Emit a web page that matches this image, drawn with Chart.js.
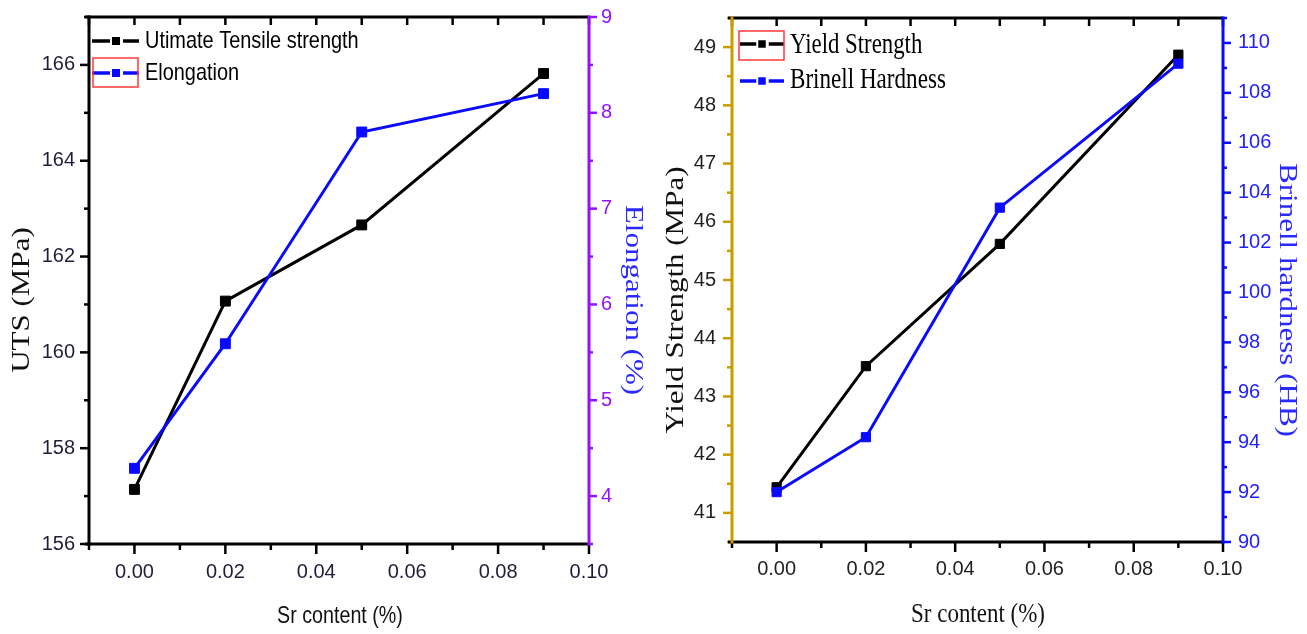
<!DOCTYPE html>
<html>
<head>
<meta charset="utf-8">
<title>Sr content vs mechanical properties</title>
<script src="https://cdn.jsdelivr.net/npm/chart.js@4.4.1/dist/chart.umd.min.js"></script>
<style>
  html, body { margin: 0; padding: 0; background: #fff; }
  #wrap  { position: relative; width: 1307px; height: 634px; overflow: hidden; }
  #left  { position: absolute; left: 0; top: 0; }
  #right { position: absolute; left: 650px; top: 0; }
</style>
</head>
<body>
<div id="wrap">
  <canvas id="left" width="650" height="634"></canvas>
  <canvas id="right" width="657" height="634"></canvas>
</div>
<script>
const srContent      = [0, 0.02, 0.05, 0.09];
const utsValues      = [157.14, 161.07, 162.66, 165.82];
const elongValues    = [4.29, 5.59, 7.8, 8.2];
const yieldValues    = [41.44, 43.52, 45.62, 48.87];
const hardnessValues = [92.0, 94.2, 103.4, 109.17];

const srTicks       = [0, 0.02, 0.04, 0.06, 0.08, 0.10];
const utsTicks      = [156, 158, 160, 162, 164, 166];
const elongTicks    = [4, 5, 6, 7, 8, 9];
const yieldTicks    = [41, 42, 43, 44, 45, 46, 47, 48, 49];
const hardnessTicks = [90, 92, 94, 96, 98, 100, 102, 104, 106, 108, 110];

const leftNames  = ["Utimate Tensile strength", "Elongation"];
const rightNames = ["Yield Strength", "Brinell Hardness"];

const TITLE_X     = "Sr content (%)";
const TITLE_UTS   = "UTS (MPa)";
const TITLE_ELONG = "Elongation (%)";
const TITLE_YIELD = "Yield Strength (MPa)";
const TITLE_HB    = "Brinell hardness (HB)";

const NARROW = "'Liberation Sans Narrow', 'Arial Narrow', 'Liberation Sans', sans-serif";
const SERIF  = "'Liberation Serif', 'Times New Roman', serif";
const BLUE   = "#0a0aff";
const PURPLE = "#9411ff";
const GOLD   = "#c99c00";

function minorValues(min, max, step, majors) {
  const out = [];
  for (let n = Math.ceil(min / step - 1e-9); n * step <= max + 1e-9; n++) {
    const v = n * step;
    if (!majors.some(m => Math.abs(m - v) < step / 10)) out.push(v);
  }
  return out;
}

function drawText(ctx, t) {
  ctx.save();
  ctx.translate(t.x, t.y);
  ctx.rotate(t.rotate || 0);
  ctx.scale(t.sx || 1, t.sy || 1);
  ctx.font = t.font;
  ctx.fillStyle = t.color || "#111";
  ctx.textAlign = t.align || "center";
  ctx.textBaseline = t.baseline || "middle";
  ctx.fillText(t.text, 0, 0);
  ctx.restore();
}

// frame, ticks (major + minor), axis titles and legend, Origin style
const framePlugin = {
  id: "frame",
  afterDraw(chart, args, o) {
    const { ctx, chartArea: a, scales } = chart;
    const seg = (x1, y1, x2, y2, color, w) => {
      ctx.strokeStyle = color;
      ctx.lineWidth = w;
      ctx.beginPath();
      ctx.moveTo(x1, y1);
      ctx.lineTo(x2, y2);
      ctx.stroke();
    };
    ctx.save();
    ctx.lineCap = "butt";

    const sx = scales.x, yl = scales.y, yr = scales.y2;
    const xMinor = minorValues(sx.min, sx.max, o.xMinor, srTicks);
    srTicks.forEach(v => {
      const p = sx.getPixelForValue(v);
      seg(p, a.bottom, p, a.bottom + 10, "#000", 2.5);
      seg(p, a.top, p, a.top + 8, "#000", 2.5);
    });
    xMinor.forEach(v => {
      const p = sx.getPixelForValue(v);
      seg(p, a.bottom, p, a.bottom + 6, "#000", 2.5);
      seg(p, a.top, p, a.top + 8, "#000", 2.5);
    });

    o.leftMajor.forEach(v => { const p = yl.getPixelForValue(v); seg(a.left, p, a.left - 9, p, o.leftColor, 2.5); });
    minorValues(yl.min, yl.max, o.leftMinor, o.leftMajor)
      .forEach(v => { const p = yl.getPixelForValue(v); seg(a.left, p, a.left - 5, p, o.leftColor, 2.5); });
    o.rightMajor.forEach(v => { const p = yr.getPixelForValue(v); seg(a.right, p, a.right + 8, p, o.rightColor, 2.5); });
    minorValues(yr.min, yr.max, o.rightMinor, o.rightMajor)
      .forEach(v => { const p = yr.getPixelForValue(v); seg(a.right, p, a.right + 4, p, o.rightColor, 2.5); });

    seg(a.left - 4, a.top, a.right, a.top, "#000", 3);
    seg(a.left - 4, a.bottom, a.right, a.bottom, "#000", 3);
    seg(a.left, a.top - 1.5, a.left, a.bottom + 1.5, o.leftColor, 3);
    seg(a.right, a.top - 1.5, a.right, a.bottom + 1.5, o.rightColor, 3);

    o.titles.forEach(t => drawText(ctx, t));

    o.legend.forEach(it => {
      const ds = chart.data.datasets[it.dataset];
      const half = it.square / 2;
      seg(it.x, it.y, it.cx - half - 2, it.y, ds.borderColor, 3.5);
      seg(it.cx + half + 3, it.y, it.x2, it.y, ds.borderColor, 3.5);
      ctx.fillStyle = ds.borderColor;
      ctx.fillRect(it.cx - half, it.y - half, it.square, it.square);
      if (it.box) {
        ctx.strokeStyle = "#ff3838";
        ctx.lineWidth = 1.5;
        ctx.strokeRect(it.box[0], it.box[1], it.box[2], it.box[3]);
      }
      drawText(ctx, {
        text: ds.label, x: it.textX, y: it.baseline, font: it.font,
        sx: it.sx, align: "left", baseline: "alphabetic", color: "#000",
      });
    });
    ctx.restore();
  },
};

function tickAxis(ticks, pos, opts) {
  return {
    type: "linear",
    position: pos,
    min: opts.min,
    max: opts.max,
    afterBuildTicks: s => { s.ticks = ticks.map(v => ({ value: v })); },
    afterFit: s => {
      if (opts.width)  s.width = opts.width;
      if (opts.height) s.height = opts.height;
      s.paddingTop = 0; s.paddingBottom = 0; s.paddingLeft = 0; s.paddingRight = 0;
    },
    grid: { drawOnChartArea: false, drawTicks: true, tickLength: 9, tickColor: "rgba(0,0,0,0)" },
    border: { display: false },
    ticks: {
      autoSkip: false,
      maxRotation: 0,
      padding: opts.padding,
      color: opts.color,
      font: { family: NARROW, size: 20 },
      callback: opts.fmt || (v => String(v)),
    },
  };
}

function series(label, ys, color, axis, order, radius) {
  return {
    label,
    data: srContent.map((x, i) => ({ x, y: ys[i] })),
    yAxisID: axis,
    borderColor: color,
    backgroundColor: color,
    pointBackgroundColor: color,
    pointBorderColor: color,
    borderWidth: 3,
    pointStyle: "rect",
    pointRadius: radius,
    pointBorderWidth: 1,
    tension: 0,
    order,
  };
}

const common = {
  responsive: false,
  animation: false,
  devicePixelRatio: 1,
  events: [],
  plugins: { legend: { display: false }, tooltip: { enabled: false } },
};

new Chart(document.getElementById("left"), {
  type: "line",
  data: {
    datasets: [
      series(leftNames[0], utsValues, "#000", "y", 1, 7),
      series(leftNames[1], elongValues, BLUE, "y2", 0, 7),
    ],
  },
  options: {
    ...common,
    layout: { padding: { top: 17, left: 0, right: 0, bottom: 0 } },
    scales: {
      x:  tickAxis(srTicks, "bottom", { min: -0.01, max: 0.10, height: 90, padding: 7, color: "#1e1e3a", fmt: v => v.toFixed(2) }),
      y:  tickAxis(utsTicks, "left", { min: 156, max: 167, width: 89, padding: 5, color: "#1e1e3a" }),
      y2: tickAxis(elongTicks, "right", { min: 3.5, max: 9, width: 61, padding: 3, color: PURPLE }),
    },
    plugins: {
      ...common.plugins,
      frame: {
        xMinor: 0.01,
        leftMajor: utsTicks, leftMinor: 1, leftColor: "#000",
        rightMajor: elongTicks, rightMinor: 0.5, rightColor: PURPLE,
        titles: [
          { text: TITLE_UTS, x: 22, y: 300, rotate: -Math.PI / 2, font: "31px " + SERIF, sy: 0.8 },
          { text: TITLE_ELONG, x: 633, y: 300, rotate: Math.PI / 2, font: "31px " + SERIF, sy: 0.8, color: "#2a2aff" },
          { text: TITLE_X, x: 340, y: 616, font: "24px 'Liberation Sans', Arial, sans-serif", sx: 0.82 },
        ],
        legend: [
          { dataset: 0, x: 92, x2: 139, cx: 116, square: 8, y: 41, textX: 145, baseline: 48, font: "24px 'Liberation Sans', Arial, sans-serif", sx: 0.83 },
          { dataset: 1, x: 92, x2: 139, cx: 116, square: 8, y: 73, textX: 145, baseline: 80, font: "24px 'Liberation Sans', Arial, sans-serif", sx: 0.83, box: [93, 58, 45, 29] },
        ],
      },
    },
  },
  plugins: [framePlugin],
});

new Chart(document.getElementById("right"), {
  type: "line",
  data: {
    datasets: [
      series(rightNames[0], yieldValues, "#000", "y", 1, 6.5),
      series(rightNames[1], hardnessValues, BLUE, "y2", 0, 6.5),
    ],
  },
  options: {
    ...common,
    layout: { padding: { top: 18, left: 0, right: 0, bottom: 0 } },
    scales: {
      x:  tickAxis(srTicks, "bottom", { min: -0.01, max: 0.10, height: 92, padding: 6, color: "#222", fmt: v => v.toFixed(2) }),
      y:  tickAxis(yieldTicks, "left", { min: 40.5, max: 49.5, width: 82, padding: 7, color: "#222" }),
      y2: tickAxis(hardnessTicks, "right", { min: 90, max: 111, width: 84, padding: 6, color: "#2222ff" }),
    },
    plugins: {
      ...common.plugins,
      frame: {
        xMinor: 0.01,
        leftMajor: yieldTicks, leftMinor: 0.5, leftColor: GOLD,
        rightMajor: hardnessTicks, rightMinor: 1, rightColor: BLUE,
        titles: [
          { text: TITLE_YIELD, x: 26, y: 300, rotate: -Math.PI / 2, font: "31px " + SERIF, sy: 0.8 },
          { text: TITLE_HB, x: 637, y: 300, rotate: Math.PI / 2, font: "31px " + SERIF, sy: 0.8, color: "#2a2aff" },
          { text: TITLE_X, x: 328, y: 615, font: "28px " + SERIF, sx: 0.82 },
        ],
        legend: [
          { dataset: 0, x: 90, x2: 134, cx: 112, square: 7.5, y: 44, textX: 140, baseline: 53, font: "30px " + SERIF, sx: 0.76, box: [89, 31, 45, 29] },
          { dataset: 1, x: 90, x2: 134, cx: 112, square: 7.5, y: 81, textX: 140, baseline: 88, font: "30px " + SERIF, sx: 0.77 },
        ],
      },
    },
  },
  plugins: [framePlugin],
});
</script>
</body>
</html>
